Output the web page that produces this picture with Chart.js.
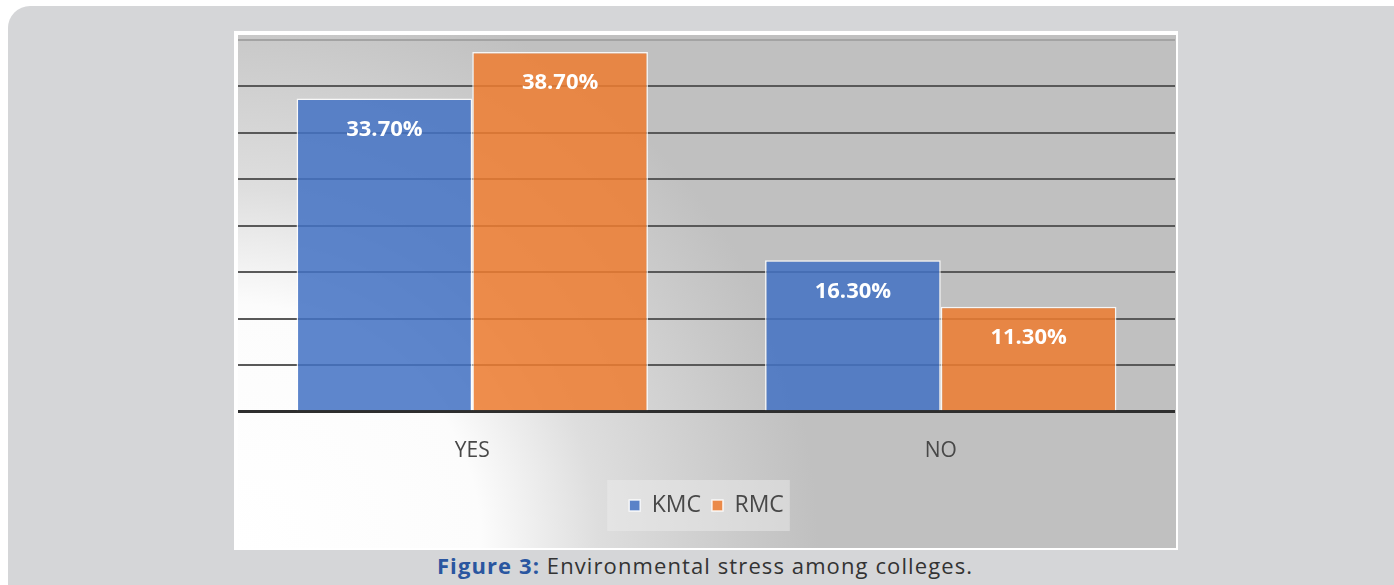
<!DOCTYPE html>
<html>
<head>
<meta charset="utf-8">
<script src="https://cdn.jsdelivr.net/npm/chart.js@4.4.1/dist/chart.umd.min.js"></script>
<style>
  html, body { margin: 0; padding: 0; background: #ffffff; }
  #page { position: relative; width: 1394px; height: 585px; overflow: hidden; }
  #panel {
    position: absolute; left: 8px; top: 6px; width: 1400px; height: 600px;
    background: #d5d6d8; border-top-left-radius: 22px;
  }
  #frame {
    position: absolute; left: 234px; top: 31px; width: 938px; height: 513px;
    border-style: solid; border-color: #ffffff;
    border-width: 4px 2px 2px 4px;
  }
  #frame canvas { display: block; }
  #caption {
    position: absolute; left: 0; width: 1410px; top: 550px;
    text-align: center; font-family: "Open Sans", "Noto Sans", sans-serif;
    font-size: 22px; letter-spacing: 1.1px; color: #333333; line-height: 30px;
  }
  #caption b { color: #2a56a0; font-weight: 700; }
</style>
</head>
<body>
<div id="page">
  <div id="panel"></div>
  <div id="frame"><canvas id="chart" width="938" height="513"></canvas></div>
  <div id="caption"><b>Figure 3:</b> Environmental stress among colleges.</div>
</div>
<script>
// Responses per college (percent of respondents)
const categories = ["YES", "NO"];
const seriesNames = ["KMC", "RMC"];
const kmcValues = [33.7, 16.3];
const rmcValues = [38.7, 11.3];
const yTicks = [0, 5, 10, 15, 20, 25, 30, 35, 40];

const FONT = '"Open Sans", "Liberation Sans", sans-serif';

// Soft white-to-grey backdrop plus the pale box behind the legend
const backdrop = {
  id: 'backdrop',
  beforeDraw(chart) {
    const { ctx, width, height } = chart;
    ctx.save();
    const g = ctx.createRadialGradient(0, height, 0, 0, height, 580);
    g.addColorStop(0, '#ffffff');
    g.addColorStop(0.42, '#fcfcfc');
    g.addColorStop(0.62, '#dedede');
    g.addColorStop(0.88, '#c9c9c9');
    g.addColorStop(1, '#c0c0c0');
    ctx.fillStyle = g;
    ctx.fillRect(0, 0, width, height);
    const lg = chart.legend;
    if (lg && lg.legendHitBoxes && lg.legendHitBoxes.length) {
      const boxes = lg.legendHitBoxes;
      const left = Math.min(...boxes.map(b => b.left));
      const right = Math.max(...boxes.map(b => b.left + b.width));
      const top = Math.min(...boxes.map(b => b.top));
      const bottom = Math.max(...boxes.map(b => b.top + b.height));
      ctx.fillStyle = 'rgba(235,235,235,0.5)';
      ctx.fillRect(left - 22, top - 14, right - left + 28, bottom - top + 28);
    }
    ctx.restore();
  }
};

// Value labels inside the top of each bar
const valueLabels = {
  id: 'valueLabels',
  afterDatasetsDraw(chart) {
    const { ctx } = chart;
    ctx.save();
    ctx.font = 'bold 22px ' + FONT;
    ctx.fillStyle = '#ffffff';
    ctx.textAlign = 'center';
    ctx.textBaseline = 'middle';
    chart.data.datasets.forEach((ds, i) => {
      chart.getDatasetMeta(i).data.forEach((bar, j) => {
        ctx.fillText(ds.data[j].toFixed(2) + '%', bar.x, bar.y + 31);
      });
    });
    ctx.restore();
  }
};

new Chart(document.getElementById('chart'), {
  type: 'bar',
  data: {
    labels: categories,
    datasets: [
      {
        label: seriesNames[0], data: kmcValues,
        backgroundColor: 'rgba(68,114,196,0.86)',
        borderColor: 'rgba(255,255,255,0.85)', borderWidth: 1.5, borderSkipped: 'bottom'
      },
      {
        label: seriesNames[1], data: rmcValues,
        backgroundColor: 'rgba(237,125,49,0.86)',
        borderColor: 'rgba(255,255,255,0.85)', borderWidth: 1.5, borderSkipped: 'bottom'
      }
    ]
  },
  options: {
    responsive: false,
    animation: false,
    layout: { padding: { top: 5, left: 0, right: 1, bottom: 21 } },
    datasets: { bar: { categoryPercentage: 0.75, barPercentage: 1.0 } },
    scales: {
      x: {
        grid: { display: false },
        border: { display: false },
        ticks: { color: '#484848', font: { family: FONT, size: 21 }, padding: 19 }
      },
      y: {
        min: 0, max: 40,
        afterBuildTicks(scale) { scale.ticks = yTicks.map(v => ({ value: v })); },
        ticks: { display: false },
        border: { display: false },
        grid: {
          drawTicks: false,
          color: ctx => ctx.tick.value === 0 ? '#2e2e2e' : (ctx.tick.value === 40 ? '#a3a3a3' : '#595959'),
          lineWidth: ctx => ctx.tick.value === 0 ? 3 : 2
        }
      }
    },
    plugins: {
      legend: {
        position: 'bottom',
        labels: {
          color: '#484848',
          font: { family: FONT, size: 23 },
          boxWidth: 11, boxHeight: 11, padding: 11
        }
      },
      tooltip: { enabled: false },
      title: { display: false }
    }
  },
  plugins: [backdrop, valueLabels]
});
</script>
</body>
</html>
